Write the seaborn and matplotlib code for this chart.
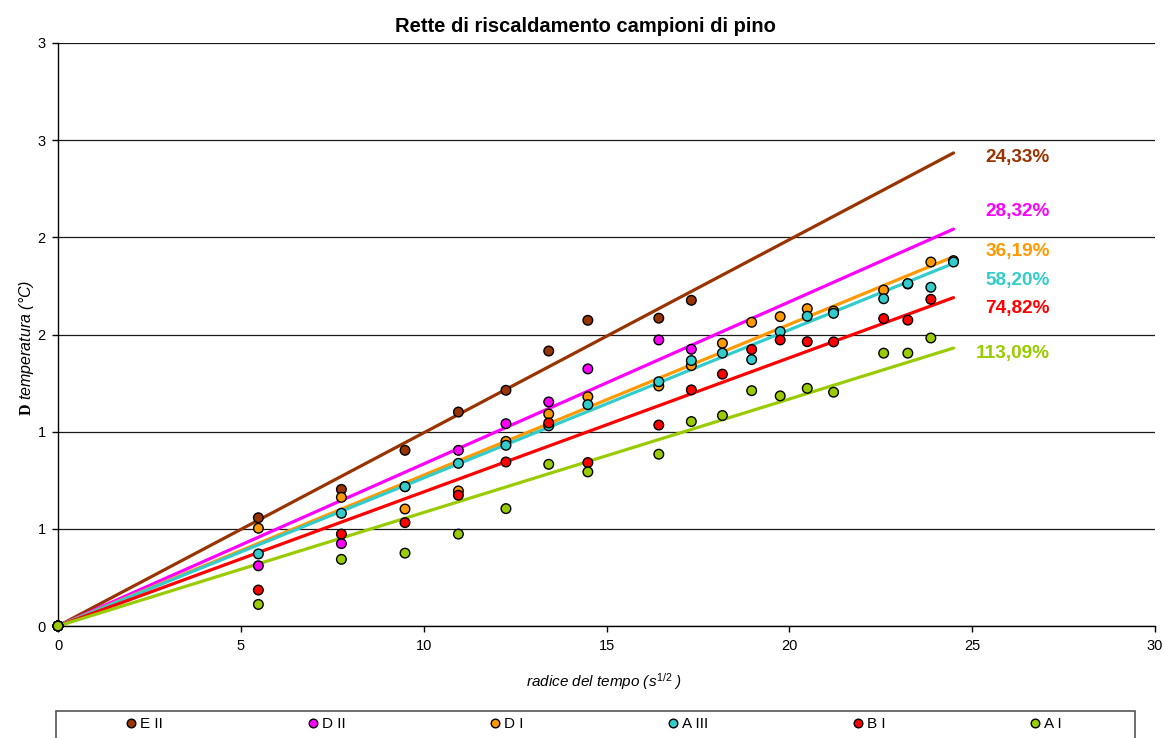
import numpy as np
import pandas as pd
import matplotlib
matplotlib.use("Agg")
import matplotlib.pyplot as plt
import seaborn as sns
from matplotlib.lines import Line2D
from matplotlib.patches import Rectangle
from matplotlib.ticker import FuncFormatter, MultipleLocator

# ---- data -------------------------------------------------------------
series_names = ["E II", "D II", "D I", "A III", "B I", "A I"]
series_colors = ["#993300", "#FF00FF", "#FF9900", "#33CCCC", "#FF0000", "#99CC00"]

x_short = [0, 5.48, 7.75, 9.49, 10.95, 12.25, 13.42, 14.49, 16.43, 17.32]
x_mid = [0, 5.48, 7.75, 9.49, 10.95, 12.25, 13.42, 14.49, 16.43, 17.32,
         18.17, 18.97, 19.75, 20.49, 21.21, 22.58, 23.24, 23.87]
x_long = x_mid + [24.49]

y_E_II = [0, 0.557, 0.703, 0.904, 1.101, 1.213, 1.415, 1.573, 1.584, 1.676]
y_D_II = [0, 0.310, 0.424, 0.717, 0.904, 1.041, 1.153, 1.323, 1.472, 1.424]
y_D_I = [0, 0.503, 0.662, 0.602, 0.695, 0.950, 1.091, 1.180, 1.235, 1.340,
         1.455, 1.563, 1.592, 1.633, 1.621, 1.729, 1.760, 1.873, 1.880]
y_A_III = [0, 0.371, 0.580, 0.717, 0.837, 0.930, 1.030, 1.139, 1.257, 1.366,
           1.404, 1.371, 1.515, 1.594, 1.609, 1.684, 1.762, 1.743, 1.873]
y_B_I = [0, 0.185, 0.473, 0.532, 0.673, 0.844, 1.045, 0.841, 1.034, 1.215,
         1.296, 1.423, 1.472, 1.463, 1.462, 1.582, 1.574, 1.681]
y_A_I = [0, 0.111, 0.343, 0.375, 0.473, 0.604, 0.832, 0.793, 0.884, 1.052,
         1.083, 1.211, 1.184, 1.223, 1.203, 1.404, 1.404, 1.482]

# slopes of the linear trend lines (intercept fixed at zero)
trend_slopes = [0.0994, 0.0834, 0.0776, 0.0762, 0.0690, 0.0584]
trend_x_end = 24.49

# moisture labels shown next to each trend line
moisture_pct = [24.33, 28.32, 36.19, 58.20, 74.82, 113.09]

series_x = [x_short, x_short, x_long, x_long, x_mid, x_mid]
series_y = [y_E_II, y_D_II, y_D_I, y_A_III, y_B_I, y_A_I]

# ---- tidy frames ---------------------------------------------------------
points = pd.concat(
    [pd.DataFrame({"x": xs, "y": ys, "serie": name})
     for name, xs, ys in zip(series_names, series_x, series_y)],
    ignore_index=True,
)
trends = pd.concat(
    [pd.DataFrame({"x": [0.0, trend_x_end],
                   "y": [0.0, k * trend_x_end],
                   "serie": name})
     for name, k in zip(series_names, trend_slopes)],
    ignore_index=True,
)
palette = dict(zip(series_names, series_colors))

# ---- styling -------------------------------------------------------------
sns.set_theme(style="white")
plt.rcParams["font.family"] = ["Liberation Sans", "DejaVu Sans"]
plt.rcParams["text.color"] = "black"
plt.rcParams["mathtext.fontset"] = "custom"
plt.rcParams["mathtext.rm"] = "Liberation Sans"
plt.rcParams["mathtext.it"] = "Liberation Sans:italic"
plt.rcParams["mathtext.bf"] = "Liberation Serif:bold"

W, H = 1164, 738
fig = plt.figure(figsize=(W / 100, H / 100), dpi=100)
ax = fig.add_axes([58 / W, 1 - 626 / H, (1155 - 58) / W, (626 - 43) / H])

sns.lineplot(data=trends, x="x", y="y", hue="serie", hue_order=series_names,
             palette=palette, linewidth=2.3, legend=False, ax=ax,
             zorder=2, estimator=None, sort=False)
sns.scatterplot(data=points, x="x", y="y", hue="serie", hue_order=series_names,
                palette=palette, s=48, edgecolor="black", linewidth=1.0,
                legend=False, ax=ax, zorder=3, clip_on=False)

# ---- axes ----------------------------------------------------------------
ax.set_xlim(0, 30)
ax.set_ylim(0, 3)
ax.xaxis.set_major_locator(MultipleLocator(5))
ax.yaxis.set_major_locator(MultipleLocator(0.5))
ax.yaxis.set_major_formatter(FuncFormatter(lambda v, p: f"{int(np.floor(v + 0.5))}"))
ax.yaxis.grid(True, color="#1a1a1a", linewidth=0.9)
ax.xaxis.grid(False)
ax.set_axisbelow(True)
for side in ("top", "right"):
    ax.spines[side].set_visible(False)
for side in ("left", "bottom"):
    ax.spines[side].set_color("black")
    ax.spines[side].set_linewidth(1.0)
ax.tick_params(axis="both", direction="out", length=4, width=1, color="black",
               labelsize=10.5, labelcolor="black", pad=5,
               bottom=True, left=True)
ax.set_xlabel("")
ax.set_ylabel("")

# percentage labels at the right end of each trend line
label_y = [2.386, 2.111, 1.906, 1.756, 1.612, 1.378]
for pct, col, yy in zip(moisture_pct, series_colors, label_y):
    txt = f"{pct:.2f}".replace(".", ",") + "%"
    ax.text(27.12, yy, txt, color=col, fontsize=13.7, fontweight="bold",
            ha="right", va="baseline")

# ---- titles --------------------------------------------------------------
fig.text(585 / W, 1 - 32 / H, "Rette di riscaldamento campioni di pino",
         ha="center", va="baseline", fontsize=14.5, fontweight="bold",
         color="black")
fig.text(604 / W, 1 - 687 / H, r"radice del tempo ($\mathit{s^{1/2}}$ )",
         ha="center", va="baseline", fontsize=11, fontstyle="italic",
         color="black")
fig.text(27 / W, 1 - 348 / H, r"$\mathbf{D}$ temperatura (°C)",
         ha="center", va="center", rotation=90, fontsize=11.5,
         fontstyle="italic", color="black")

# ---- legend --------------------------------------------------------------
handles = [Line2D([], [], linestyle="none", marker="o", markersize=6.2,
                  markerfacecolor=c, markeredgecolor="black", markeredgewidth=1)
           for c in series_colors]
fig.legend(handles, series_names, ncol=6, loc="center",
           bbox_to_anchor=(594 / W, 1 - 724 / H), frameon=False,
           fontsize=11, handlelength=0.7, handletextpad=0.25,
           columnspacing=9.43, borderpad=0, labelcolor="black")
fig.patches.append(Rectangle((56 / W, 1 - 750 / H), (1135 - 56) / W, (750 - 711) / H,
                             transform=fig.transFigure, fill=False,
                             edgecolor="#555555", linewidth=1.2))

fig.savefig("out.png", dpi=100, facecolor="white")
